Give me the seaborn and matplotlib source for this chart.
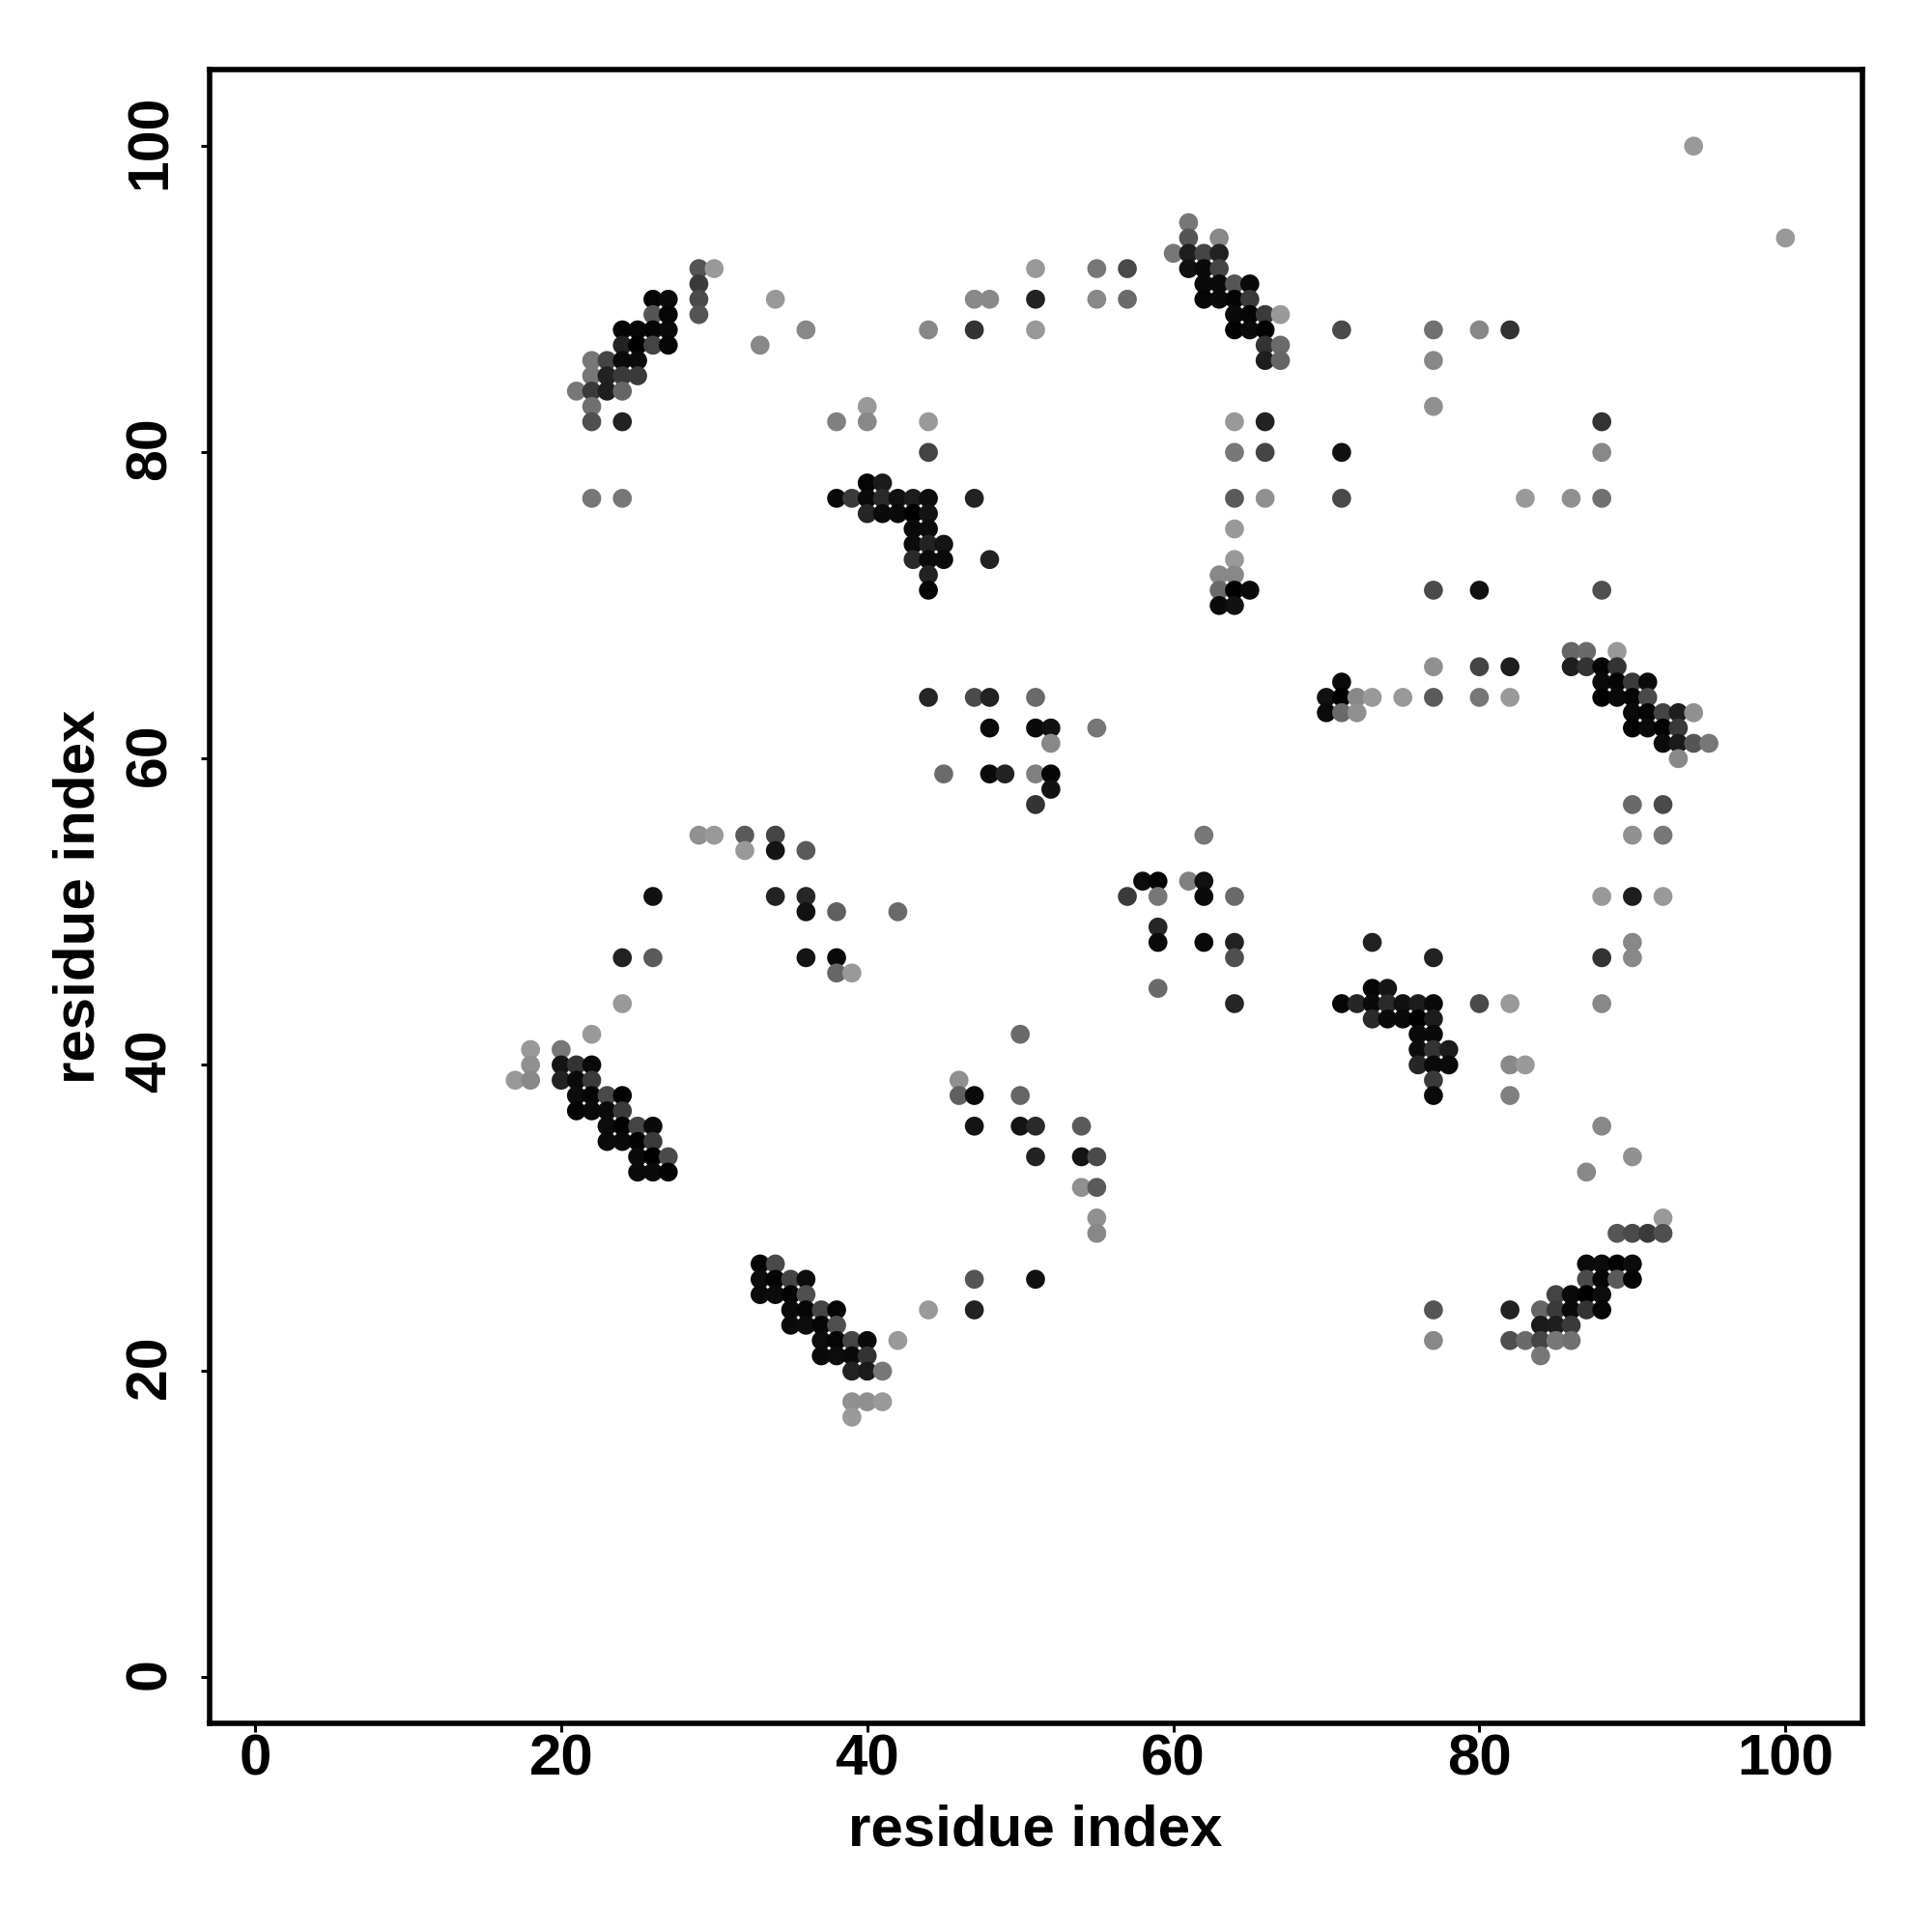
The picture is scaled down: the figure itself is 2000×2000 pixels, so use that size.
import seaborn as sns
import matplotlib.pyplot as plt
import matplotlib.transforms as mtrans
import pandas as pd

# contact map, one entry per row of the map: y index, x indices, darkness (0 black .. 255 white)
row_y = [100, 95, 94, 93, 92, 91, 90, 89, 88, 87, 86, 85, 84, 83, 82, 80, 78, 77, 76, 75, 74, 73, 72, 71, 70,
         67, 66, 65, 64, 63, 62, 61, 60, 59, 58, 57, 55, 54, 52, 51, 50, 49, 48, 47, 46, 45, 44, 43, 42, 41,
         40, 39, 38, 37, 36, 35, 34, 33, 32, 30, 29, 27, 26, 25, 24, 23, 22, 21, 20, 18, 17]

row_x = [
    [94],
    [61],
    [61, 63, 100],
    [60, 61, 62, 63],
    [29, 30, 51, 55, 57, 61, 62, 63],
    [29, 62, 63, 64, 65],
    [26, 27, 29, 34, 47, 48, 51, 55, 57, 62, 63, 64, 65],
    [26, 27, 29, 64, 65, 66, 67],
    [24, 25, 26, 27, 36, 44, 47, 51, 64, 65, 66, 71, 77, 80, 82],
    [24, 25, 26, 27, 33, 66, 67],
    [22, 23, 24, 25, 66, 67, 77],
    [22, 23, 24, 25],
    [21, 22, 23, 24],
    [22, 40, 77],
    [22, 24, 38, 40, 44, 64, 66, 88],
    [44, 64, 66, 71, 88],
    [40, 41],
    [22, 24, 38, 39, 40, 41, 42, 43, 44, 47, 64, 66, 71, 83, 86, 88],
    [40, 41, 42, 43, 44],
    [43, 44, 64],
    [43, 44, 45],
    [43, 44, 45, 48, 64],
    [44, 63, 64],
    [44, 63, 64, 65, 77, 80, 88],
    [63, 64],
    [86, 87, 89],
    [77, 80, 82, 86, 87, 88, 89],
    [71, 88, 89, 90, 91],
    [44, 47, 48, 51, 70, 71, 72, 73, 75, 77, 80, 82, 88, 89, 90, 91],
    [70, 71, 72, 90, 91, 92, 93, 94],
    [48, 51, 52, 55, 90, 91, 92, 93],
    [52, 92, 93, 94, 95],
    [93],
    [45, 48, 49, 51, 52],
    [52],
    [51, 90, 92],
    [29, 30, 32, 34, 62, 90, 92],
    [32, 34, 36],
    [58, 59, 61, 62],
    [26, 34, 36, 57, 59, 62, 64, 88, 90, 92],
    [36, 38, 42],
    [59],
    [59, 62, 64, 73, 90],
    [24, 26, 36, 38, 64, 77, 88, 90],
    [38, 39],
    [59, 73, 74],
    [24, 64, 71, 72, 73, 74, 75, 76, 77, 80, 82, 88],
    [73, 74, 75, 76, 77],
    [22, 50, 76, 77],
    [18, 20, 76, 77, 78],
    [18, 20, 21, 22, 76, 77, 78, 82, 83],
    [17, 18, 20, 21, 22, 46, 77],
    [21, 22, 23, 24, 46, 47, 50, 77, 82],
    [21, 22, 23, 24],
    [23, 24, 25, 26, 47, 50, 51, 54, 88],
    [23, 24, 25, 26],
    [25, 26, 27, 51, 54, 55, 90],
    [25, 26, 27, 87],
    [54, 55],
    [55, 92],
    [55, 89, 90, 91, 92],
    [33, 34, 87, 88, 89, 90],
    [33, 34, 35, 36, 47, 51, 87, 88, 89, 90],
    [33, 34, 35, 36, 85, 86, 87, 88],
    [35, 36, 37, 38, 44, 47, 77, 82, 84, 85, 86, 87, 88],
    [35, 36, 37, 38, 84, 85, 86],
    [37, 38, 39, 40, 42, 77, 82, 83, 84, 85, 86],
    [37, 38, 39, 40, 84],
    [39, 40, 41],
    [39, 40, 41],
    [39],
]

row_level = [
    [0x99],
    [0x77],
    [0x55, 0x88, 0x99],
    [0x77, 0x1e, 0x44, 0x22],
    [0x55, 0x99, 0x99, 0x77, 0x4a, 0x11, 0x0a, 0x44],
    [0x3a, 0x0a, 0x0a, 0x55, 0x0a],
    [0x05, 0x0a, 0x4a, 0x99, 0x88, 0x88, 0x22, 0x88, 0x6a, 0x05, 0x0a, 0x05, 0x3a],
    [0x55, 0x05, 0x55, 0x0a, 0x05, 0x3a, 0x99],
    [0x05, 0x05, 0x05, 0x0a, 0x88, 0x88, 0x33, 0x99, 0x03, 0x0a, 0x03, 0x4a, 0x70, 0x88, 0x33],
    [0x22, 0x00, 0x44, 0x05, 0x88, 0x33, 0x6a],
    [0x77, 0x44, 0x0a, 0x0a, 0x1e, 0x66, 0x88],
    [0x77, 0x22, 0x3a, 0x3a],
    [0x77, 0x3a, 0x1e, 0x66],
    [0x70, 0x99, 0x90],
    [0x4f, 0x22, 0x80, 0x88, 0x99, 0x99, 0x22, 0x33],
    [0x44, 0x77, 0x44, 0x11, 0x88],
    [0x05, 0x1a],
    [0x77, 0x77, 0x0a, 0x3a, 0x0a, 0x2a, 0x10, 0x1c, 0x0c, 0x22, 0x5a, 0x90, 0x4a, 0x99, 0x90, 0x70],
    [0x26, 0x0a, 0x0a, 0x00, 0x14],
    [0x0a, 0x0c, 0x99],
    [0x0c, 0x22, 0x14],
    [0x2a, 0x0a, 0x0a, 0x22, 0x99],
    [0x22, 0x88, 0x88],
    [0x05, 0x6a, 0x00, 0x0a, 0x4a, 0x11, 0x4f],
    [0x0a, 0x11],
    [0x66, 0x6a, 0x99],
    [0x90, 0x44, 0x1e, 0x1e, 0x33, 0x05, 0x33],
    [0x0a, 0x0a, 0x05, 0x3a, 0x0a],
    [0x26, 0x4a, 0x22, 0x6a, 0x11, 0x00, 0x88, 0x99, 0x99, 0x5a, 0x77, 0x99, 0x00, 0x0a, 0x05, 0x4a],
    [0x0a, 0x6a, 0x90, 0x0a, 0x05, 0x44, 0x1e, 0x90],
    [0x0a, 0x0a, 0x11, 0x77, 0x03, 0x0a, 0x03, 0x3a],
    [0x88, 0x0c, 0x1a, 0x55, 0x77],
    [0x88],
    [0x6a, 0x0a, 0x22, 0x80, 0x05],
    [0x11],
    [0x33, 0x6a, 0x4a],
    [0x90, 0x99, 0x5a, 0x44, 0x77, 0x90, 0x77],
    [0x99, 0x14, 0x5a],
    [0x0c, 0x05, 0x80, 0x11],
    [0x11, 0x22, 0x26, 0x3a, 0x77, 0x0a, 0x6a, 0x99, 0x1e, 0x99],
    [0x11, 0x60, 0x6a],
    [0x26],
    [0x0a, 0x0a, 0x22, 0x22, 0x88],
    [0x22, 0x5a, 0x14, 0x0a, 0x4f, 0x22, 0x33, 0x88],
    [0x66, 0x99],
    [0x6a, 0x05, 0x14],
    [0x99, 0x26, 0x05, 0x26, 0x0a, 0x2a, 0x11, 0x1c, 0x0a, 0x4a, 0x99, 0x88],
    [0x2a, 0x0a, 0x0a, 0x00, 0x1c],
    [0x99, 0x6a, 0x0a, 0x0a],
    [0x99, 0x77, 0x0c, 0x33, 0x1c],
    [0x90, 0x14, 0x33, 0x0a, 0x26, 0x0a, 0x0a, 0x88, 0x99],
    [0x99, 0x88, 0x22, 0x0a, 0x3a, 0x90, 0x3a],
    [0x0c, 0x05, 0x4a, 0x03, 0x60, 0x0a, 0x66, 0x0a, 0x80],
    [0x05, 0x0a, 0x0a, 0x3a],
    [0x0c, 0x03, 0x44, 0x0a, 0x14, 0x14, 0x2a, 0x5a, 0x88],
    [0x0a, 0x0a, 0x03, 0x3a],
    [0x0a, 0x00, 0x4a, 0x22, 0x14, 0x4a, 0x90],
    [0x0a, 0x0a, 0x03, 0x88],
    [0x90, 0x5a],
    [0x90, 0x99],
    [0x88, 0x55, 0x4a, 0x3a, 0x4f],
    [0x05, 0x4a, 0x0a, 0x0c, 0x03, 0x0c],
    [0x0c, 0x05, 0x44, 0x0c, 0x55, 0x11, 0x4a, 0x05, 0x5a, 0x05],
    [0x0a, 0x0c, 0x03, 0x4f, 0x44, 0x0a, 0x00, 0x0c],
    [0x0a, 0x05, 0x44, 0x05, 0x99, 0x22, 0x55, 0x22, 0x66, 0x3a, 0x0a, 0x33, 0x05],
    [0x0a, 0x0c, 0x05, 0x4f, 0x1a, 0x1e, 0x3a],
    [0x0c, 0x05, 0x44, 0x0a, 0x99, 0x88, 0x4f, 0x6a, 0x44, 0x77, 0x70],
    [0x0a, 0x0c, 0x0a, 0x33, 0x77],
    [0x22, 0x1a, 0x77],
    [0x90, 0x90, 0x99],
    [0x99],
]

ticks = [0, 20, 40, 60, 80, 100]

rows = []
for y, xs, levels in zip(row_y, row_x, row_level):
    for x, level in zip(xs, levels):
        rows.append({"x": x, "y": y, "level": level})
df = pd.DataFrame(rows)

sns.set_style("white")
plt.rcParams["font.family"] = ["Liberation Sans", "DejaVu Sans"]
plt.rcParams["font.weight"] = "bold"
plt.rcParams["text.color"] = "black"
plt.rcParams["axes.labelcolor"] = "black"

fig = plt.figure(figsize=(10, 10), dpi=200)
ax = fig.add_axes([216.5 / 2000, 1 - 1784 / 2000, 1711 / 2000, 1712 / 2000])

sns.scatterplot(data=df, x="x", y="y", hue="level", hue_norm=(0, 255), palette="gray",
                s=50, linewidth=0, edgecolor="none", legend=False, ax=ax)

ax.set_xlim(-3, 105)
ax.set_ylim(-3, 105)
ax.set_xticks(ticks)
ax.set_yticks(ticks)
ax.tick_params(axis="x", bottom=True, direction="out", length=3.2, width=1.1, color="black",
               labelcolor="black", labelsize=21.6, pad=0.5)
ax.tick_params(axis="y", left=True, direction="out", length=3.2, width=1.1, color="black",
               labelcolor="black", labelsize=21.2, pad=13)
# rotated labels sit a little low, nudge them up by 4 px
nudge = mtrans.ScaledTranslation(0, 4 / 200, fig.dpi_scale_trans)
for t in ax.get_yticklabels():
    t.set_rotation(90)
    t.set_rotation_mode("anchor")
    t.set_ha("center")
    t.set_va("baseline")
    t.set_transform(t.get_transform() + nudge)
for s in ax.spines.values():
    s.set_visible(True)
    s.set_color("black")
    s.set_linewidth(2)

ax.set_xlabel("residue index", fontsize=21.6, fontweight="bold")
ax.set_ylabel("residue index", fontsize=21.6, fontweight="bold")
ax.xaxis.set_label_coords(0.5, -0.0485)
ax.yaxis.set_label_coords(-0.0623, 0.5)

fig.savefig("out.png", dpi=200)
